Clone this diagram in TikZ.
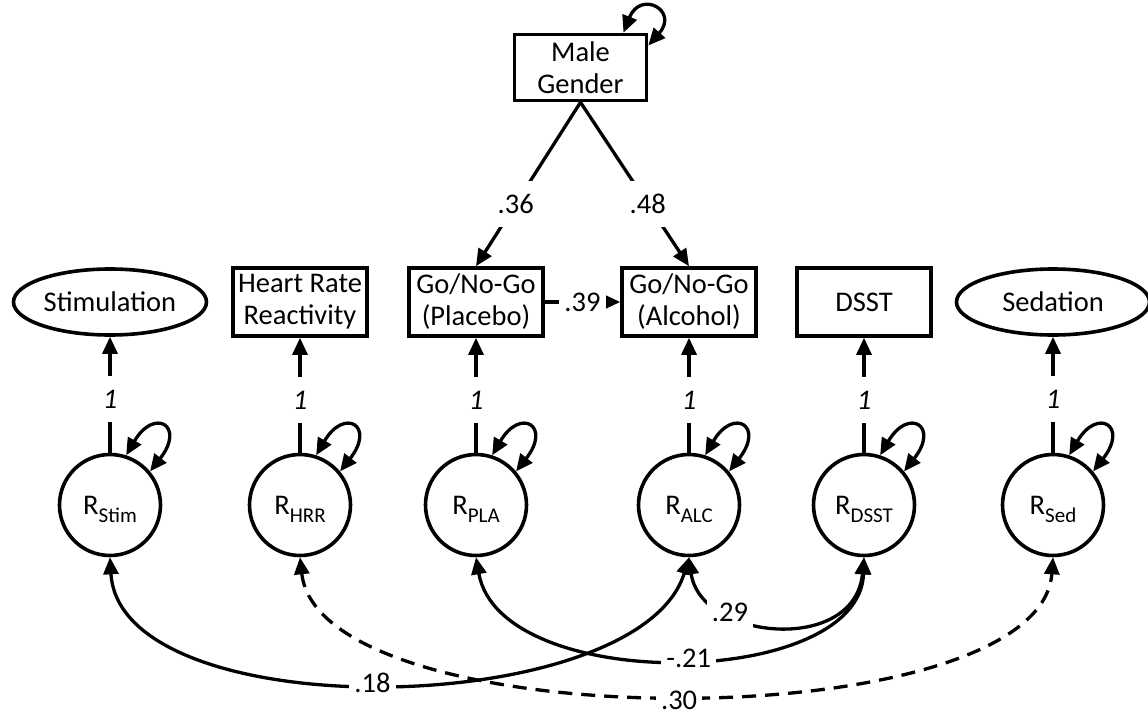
\documentclass[tikz,border=0pt]{standalone}
\usepackage{fontspec}
\setmainfont{Carlito}
\usetikzlibrary{arrows.meta,shapes.geometric}
\tikzset{
  obs/.style={draw,rectangle,line width=3.6pt,minimum width=134pt,minimum height=68pt,align=center,inner sep=0pt},
  lat/.style={draw,ellipse,line width=3.6pt,minimum width=193pt,minimum height=66pt,inner sep=0pt},
  res/.style={draw,circle,line width=3.6pt,minimum size=101pt,inner sep=0pt},
  path/.style={line width=3.3pt,-{Triangle[length=17pt,width=15pt]}},
  cov/.style={line width=3.3pt,{Triangle[length=17pt,width=15pt]}-{Triangle[length=17pt,width=15pt]}},
  coef/.style={fill=white,inner xsep=5pt,inner ysep=0pt,minimum height=46pt},
  one/.style={coef,font=\fontsize{28.5}{32}\itshape},
}
\newcommand{\rsub}[1]{R\raisebox{-8pt}[0pt][0pt]{\fontsize{21}{21}\selectfont #1}}
\begin{document}
\begin{tikzpicture}[x=1pt,y=-1pt,font=\fontsize{28.5}{32}\selectfont]
\useasboundingbox (0,0) rectangle (1148,715);
\node[obs,minimum width=132pt,minimum height=66pt] (mg) at (580.5,67.5) {Male\\Gender};
\node[lat] (stim) at (110,302) {Stimulation};
\node[obs] (hrr) at (300,302) {Heart Rate\\Reactivity};
\node[obs] (pla) at (476,302) {Go/No-Go\\(Placebo)};
\node[obs] (alc) at (689,302) {Go/No-Go\\(Alcohol)};
\node[obs] (dsst) at (864,302) {DSST};
\node[lat] (sed) at (1053,302) {Sedation};
% residuals
\node[res] (rstim) at (110,505) {\rsub{Stim}};
\node[res] (rhrr) at (300,505) {\rsub{HRR}};
\node[res] (rpla) at (476,505) {\rsub{PLA}};
\node[res] (ralc) at (689,505) {\rsub{ALC}};
\node[res] (rdsst) at (864,505) {\rsub{DSST}};
\node[res] (rsed) at (1053,505) {\rsub{Sed}};
\foreach \v in {stim,hrr,pla,alc,dsst,sed}{
  \draw[path] (r\v) -- node[one,pos=0.46] {1} (\v);
  \draw[cov] (r\v.72) .. controls +(28,-48) and +(36,-46) .. (r\v.40);
}
\draw[cov] (mg.39) .. controls +(17,-43) and +(31,-35) .. (mg.18);
\draw[path] (mg.south) -- node[coef,pos=0.62] {.36} (pla.north);
\draw[path] (mg.south) -- node[coef,pos=0.62] {.48} (alc.north);
\draw[path] (pla) -- node[coef] {.39} (alc);
% covariances
\draw[cov] (rstim.south) .. controls (120,730) and (640,720) .. node[coef,pos=0.485] {.18} (ralc.south);
\draw[cov,dash pattern=on 14pt off 9pt] (rhrr.south) .. controls (320,740) and (1040,740) .. node[coef,pos=0.5,yshift=-6pt] {.30} (rsed.south);
\draw[cov] (rpla.south) .. controls (500,695) and (860,690) .. node[coef,pos=0.52] {-.21} (rdsst.south);
\draw[cov] (ralc.south) .. controls (700,640) and (855,655) .. node[coef,pos=0.3] {.29} (rdsst.south);
\end{tikzpicture}
\end{document}
